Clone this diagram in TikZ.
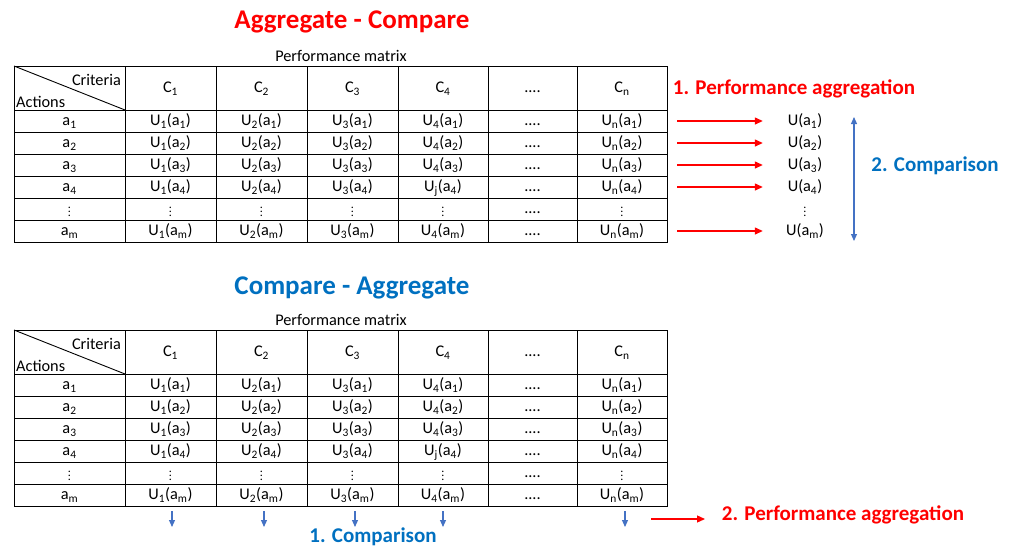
\documentclass[tikz,border=0pt]{standalone}
\usepackage{fontspec}
\setmainfont{Carlito}
\usetikzlibrary{arrows.meta}
\definecolor{aggred}{HTML}{FF0000}
\definecolor{cmpblue}{HTML}{0070C0}
\definecolor{arrblue}{HTML}{4472C4}
\newcommand{\rowdots}{{\fontsize{12}{14}\selectfont$\vdots$}}
\tikzset{
  cell/.style={inner sep=0pt, text height=12pt, text depth=3pt, font=\fontsize{16.3}{19}\selectfont},
  dotcell/.style={inner sep=0pt},
  title/.style={inner sep=0pt, font=\fontsize{27}{30}\selectfont\bfseries},
  steplabel/.style={inner sep=0pt, font=\fontsize{21}{24}\selectfont\bfseries},
  grid/.style={line width=0.9pt},
  aggarrow/.style={aggred, line width=1.3pt, -{Triangle[length=8pt, width=7pt]}},
  cmparrow/.style={arrblue, line width=1.1pt, -{Triangle[length=7pt, width=6pt]}}
}

\begin{document}
\begin{tikzpicture}[x=1pt, y=-1pt]
\useasboundingbox (0,0) rectangle (1013,549);
\node[title, text=aggred] (agg-title) at (352,22) {Aggregate - Compare};
\node[title, text=cmpblue] (cmp-title) at (352,288) {Compare - Aggregate};
% the two performance matrices
\foreach \t/\dy in {T/0,B/264}{
  \begin{scope}[yshift=-\dy pt]
    \node[cell] (\t-pm) at (341,57) {Performance matrix};
    \draw[grid] (14,66) rectangle (667,242);
    \foreach \x in {125,216,307,398,488,577} \draw[grid] (\x,66) -- (\x,242);
    \foreach \y in {110,132,...,220} \draw[grid] (14,\y) -- (667,\y);
    \draw[grid] (14,66) -- (125,110);
    \node[cell, anchor=base east] (\t-crit) at (121,85) {Criteria};
    \node[cell, anchor=base west] (\t-act) at (16,107) {Actions};
    \foreach \c/\x in {1/170.5,2/261.5,3/352.5,4/443,n/622}
      \node[cell] (\t-C\c) at (\x,88) {C\textsubscript{\c}};
    \node[cell] (\t-Cd) at (532.5,88) {....};
    \foreach \r/\y in {1/121,2/143,3/165,4/187,m/231}{
      \node[cell] (\t-a\r) at (69.5,\y) {a\textsubscript{\r}};
      \foreach \c/\x in {1/170.5,2/261.5,3/352.5,4/443,n/622}
        \node[cell] (\t-\c-\r) at (\x,\y) {U\textsubscript{\if\c4\if\r4j\else\c\fi\else\c\fi}(a\textsubscript{\r})};
      \node[cell] (\t-d-\r) at (532.5,\y) {....};
    }
    \foreach \x [count=\k] in {69.5,170.5,261.5,352.5,443,622}
      \node[dotcell] (\t-v\k) at (\x,209) {\rowdots};
    \node[cell] (\t-d-v) at (532.5,209) {....};
  \end{scope}
}
% aggregate, then compare
\foreach \r/\y in {1/121,2/143,3/165,4/187,m/231}{
  \coordinate (ag-s\r) at (677,\y);
  \node[cell, minimum width=84pt] (ag-U\r) at (805,\y) {U(a\textsubscript{\r})};
  \draw[aggarrow] (ag-s\r) -- (ag-U\r);
}
\node[dotcell] (ag-Uv) at (805,209) {\rowdots};
\node[steplabel, text=aggred] (ag-lab) at (794,89) {1. Performance aggregation};
\coordinate (ag-top) at (854,117);
\coordinate (ag-bot) at (854,241);
\draw[cmparrow, {Triangle[length=7pt, width=6pt]}-{Triangle[length=7pt, width=6pt]}] (ag-top) -- (ag-bot);
\node[steplabel, text=cmpblue] (ag-cmp) at (935,166) {2. Comparison};
% compare, then aggregate
\foreach \x [count=\k] in {172,264,355,443,625}{
  \coordinate (cp-s\k) at (\x,511);
  \coordinate (cp-e\k) at (\x,527);
  \draw[cmparrow] (cp-s\k) -- (cp-e\k);
}
\node[steplabel, text=cmpblue] (cp-lab) at (373,537) {1. Comparison};
\coordinate (cp-as) at (651,519);
\coordinate (cp-ae) at (705,519);
\draw[aggarrow] (cp-as) -- (cp-ae);
\node[steplabel, text=aggred] (cp-agg) at (843,515) {2. Performance aggregation};
\end{tikzpicture}
\end{document}
